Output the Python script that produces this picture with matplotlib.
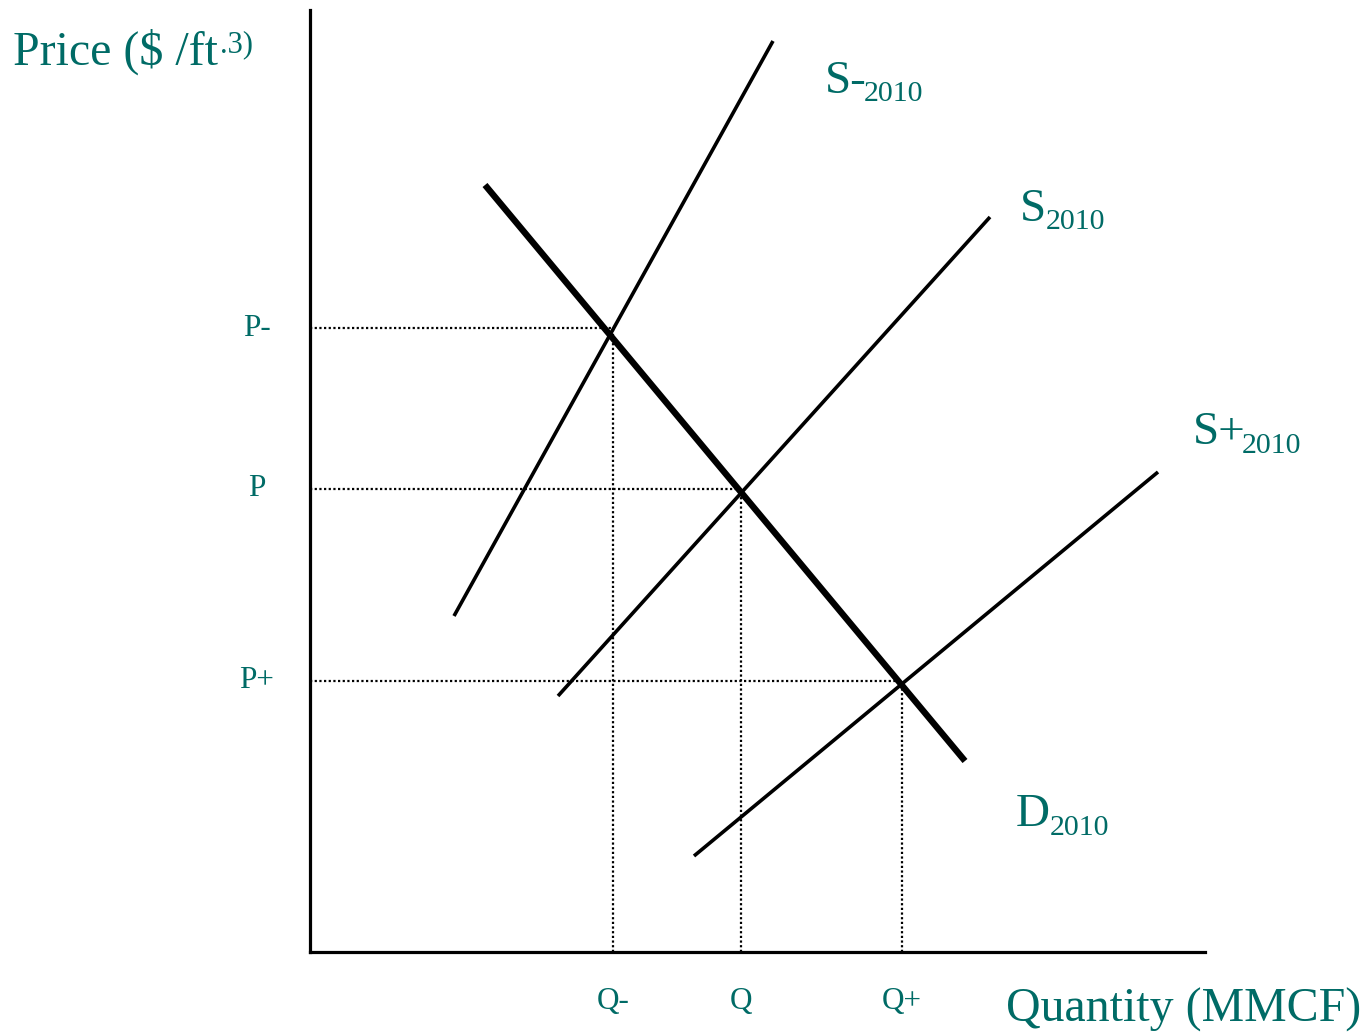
import matplotlib
matplotlib.use("Agg")
import matplotlib.pyplot as plt

plt.rcParams['font.family'] = ['Liberation Serif', 'DejaVu Serif']

TEAL = '#006b66'

# curve end points (quantity, price) in chart units
supply_minus = [(144, 336), (463, 911)]
supply_base = [(248, 256), (680, 735)]
supply_plus = [(384, 96), (848, 480)]
demand = [(175, 767), (655, 191)]

# equilibrium levels
price_levels = [624, 463, 271]
price_labels = ['P-', 'P', 'P+']
qty_levels = [303, 431, 592]
qty_labels = ['Q-', 'Q', 'Q+']

W, H = 1368, 1032
fig = plt.figure(figsize=(W / 100, H / 100), dpi=100)
ax = fig.add_axes([310 / W, 80 / H, 895 / W, 942 / H])
ax.set_xlim(0, 895)
ax.set_ylim(0, 942)
for side in ['top', 'right']:
    ax.spines[side].set_visible(False)
for side in ['left', 'bottom']:
    ax.spines[side].set_linewidth(2.3)
ax.set_xticks([])
ax.set_yticks([])


def seg(pts, lw):
    (x0, y0), (x1, y1) = pts
    ax.plot([x0, x1], [y0, y1], color='black', lw=lw, solid_capstyle='butt', clip_on=False)


seg(supply_minus, 2.6)
seg(supply_base, 2.6)
seg(supply_plus, 2.6)
seg(demand, 4.6)

# dotted guides from the axes to each equilibrium
for p, q in zip(price_levels, qty_levels):
    ax.plot([0, q], [p, p], color='black', lw=1.6, ls=(0, (1, 1.1)))
    ax.plot([q, q], [0, p], color='black', lw=1.6, ls=(0, (1, 1.1)))


def ftext(x, y, s, size, **kw):
    fig.text(x / W, 1 - y / H, s, fontsize=size, color=TEAL, **kw)


for p, lab in zip(price_levels, price_labels):
    ax.text(-53, p, lab, fontsize=22.5, color=TEAL, ha='center', va='center', clip_on=False)
for q, lab in zip(qty_levels, qty_labels):
    ax.text(q, -49, lab, fontsize=22.5, color=TEAL, ha='center', va='center', clip_on=False)

# axis titles
ftext(13, 65, 'Price ($ /ft', 34.5, va='baseline')
ftext(220, 52, '.3)', 22, va='baseline')
ftext(1006, 1022, 'Quantity (MMCF)', 34.5, va='baseline')

# curve names with subscripts
ftext(825, 93, 'S-', 34, va='baseline')
ftext(864, 101, '2010', 21.5, va='baseline')
ftext(1020, 221, 'S', 34, va='baseline')
ftext(1046, 229, '2010', 21.5, va='baseline')
ftext(1193, 444, 'S+', 34, va='baseline')
ftext(1242, 453, '2010', 21.5, va='baseline')
ftext(1016, 826, 'D', 34, va='baseline')
ftext(1050, 835, '2010', 21.5, va='baseline')

fig.savefig('out.png', dpi=100)
